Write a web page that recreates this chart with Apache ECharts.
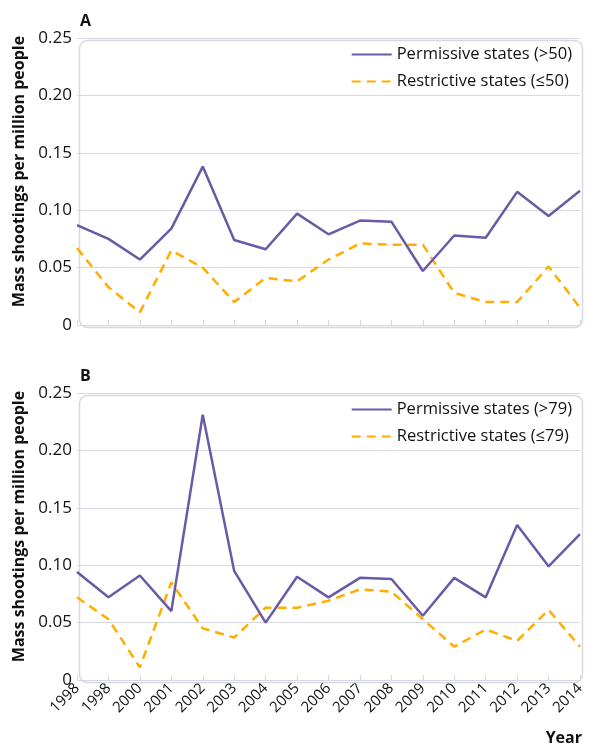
<!DOCTYPE html>
<html>
<head>
<meta charset="utf-8">
<script src="https://cdn.jsdelivr.net/npm/echarts@6/dist/echarts.min.js"></script>
<style>
html,body{margin:0;padding:0;background:#fff;}
#chart{width:589px;height:747px;}
</style>
</head>
<body>
<div id="chart"></div>
<script>
const years = ['1998','1998','2000','2001','2002','2003','2004','2005','2006','2007','2008','2009','2010','2011','2012','2013','2014'];
const yTicks = [0, 0.05, 0.10, 0.15, 0.20, 0.25];

const permissiveA = [0.087,0.075,0.057,0.084,0.138,0.074,0.066,0.097,0.079,0.091,0.090,0.047,0.078,0.076,0.116,0.095,0.117];
const restrictiveA = [0.067,0.033,0.011,0.065,0.050,0.020,0.041,0.038,0.057,0.071,0.070,0.070,0.028,0.020,0.020,0.051,0.015];

const permissiveB = [0.094,0.072,0.091,0.060,0.231,0.095,0.050,0.090,0.072,0.089,0.088,0.056,0.089,0.072,0.135,0.099,0.127];
const restrictiveB = [0.072,0.053,0.011,0.085,0.045,0.037,0.063,0.063,0.069,0.079,0.077,0.053,0.029,0.044,0.034,0.061,0.029];

const namesA = ['Permissive states (>50)', 'Restrictive states (\u226450)'];
const namesB = ['Permissive states (>79)', 'Restrictive states (\u226479)'];

const PURPLE = '#6a5aa6';
const ORANGE = '#ffad00';
const GRIDC = '#d6d9e4';
const FONT = 'Open Sans';

const L = 77, W = 503, H = 287, TOPA = 38, TOPB = 393;

const chart = echarts.init(document.getElementById('chart'));

function xAxis(idx, showLabels) {
  return {
    type: 'category', gridIndex: idx, data: years, boundaryGap: false,
    axisLine: {show: false},
    axisTick: {show: true, inside: true, length: 5, lineStyle: {color: GRIDC, width: 1}},
    axisLabel: {show: showLabels, rotate: 45, color: '#111', fontSize: 15, fontFamily: FONT, margin: 6},
    splitLine: {show: false}
  };
}
function yAxis(idx) {
  return {
    type: 'value', gridIndex: idx, min: 0, max: 0.25, interval: 0.05,
    axisLine: {show: false}, axisTick: {show: false},
    axisLabel: {color: '#111', fontSize: 17, fontFamily: FONT, margin: 5,
      formatter: v => v === 0 ? '0' : v.toFixed(2)},
    splitLine: {show: true, lineStyle: {color: GRIDC, width: 1.2}},
    name: 'Mass shootings per million people', nameLocation: 'middle', nameGap: 50,
    nameTextStyle: {fontSize: 16, fontWeight: 'bold', color: '#111', fontFamily: FONT, padding: [0, 0, 0, 20]}
  };
}
function lineSeries(name, data, idx, dashed) {
  return {
    name: name, type: 'line', xAxisIndex: idx, yAxisIndex: idx, data: data,
    symbol: 'none', smooth: false,
    lineStyle: {color: dashed ? ORANGE : PURPLE, width: 2.5, type: dashed ? [9, 6] : 'solid'},
    itemStyle: {color: dashed ? ORANGE : PURPLE},
    z: dashed ? 3 : 4
  };
}
function frame(top) {
  return {type: 'rect', left: L, top: top, z: 1, silent: true,
    shape: {width: W, height: H, r: 8},
    style: {fill: 'none', stroke: GRIDC, lineWidth: 1.5}};
}
function legend(names, top) {
  return {data: names, orient: 'vertical', right: 12, top: top, itemWidth: 40, itemHeight: 12, itemGap: 10,
    itemStyle: {opacity: 0},
    textStyle: {fontSize: 16.5, color: '#111', fontFamily: FONT}};
}

chart.setOption({
  animation: false,
  textStyle: {fontFamily: FONT},
  title: [
    {text: 'A', left: L - 2, top: 8, textStyle: {fontSize: 16, fontWeight: 'bold', color: '#111', fontFamily: FONT}},
    {text: 'B', left: L - 2, top: 363, textStyle: {fontSize: 16, fontWeight: 'bold', color: '#111', fontFamily: FONT}},
    {text: 'Year', right: 2, top: 725, textStyle: {fontSize: 16, fontWeight: 'bold', color: '#111', fontFamily: FONT}}
  ],
  grid: [
    {left: L, top: TOPA, width: W, height: H},
    {left: L, top: TOPB, width: W, height: H}
  ],
  xAxis: [xAxis(0, false), xAxis(1, true)],
  yAxis: [yAxis(0), yAxis(1)],
  legend: [legend(namesA, 41), legend(namesB, 396)],
  graphic: [frame(TOPA), frame(TOPB)],
  series: [
    lineSeries(namesA[0], permissiveA, 0, false),
    lineSeries(namesA[1], restrictiveA, 0, true),
    lineSeries(namesB[0], permissiveB, 1, false),
    lineSeries(namesB[1], restrictiveB, 1, true)
  ]
});
</script>
</body>
</html>
